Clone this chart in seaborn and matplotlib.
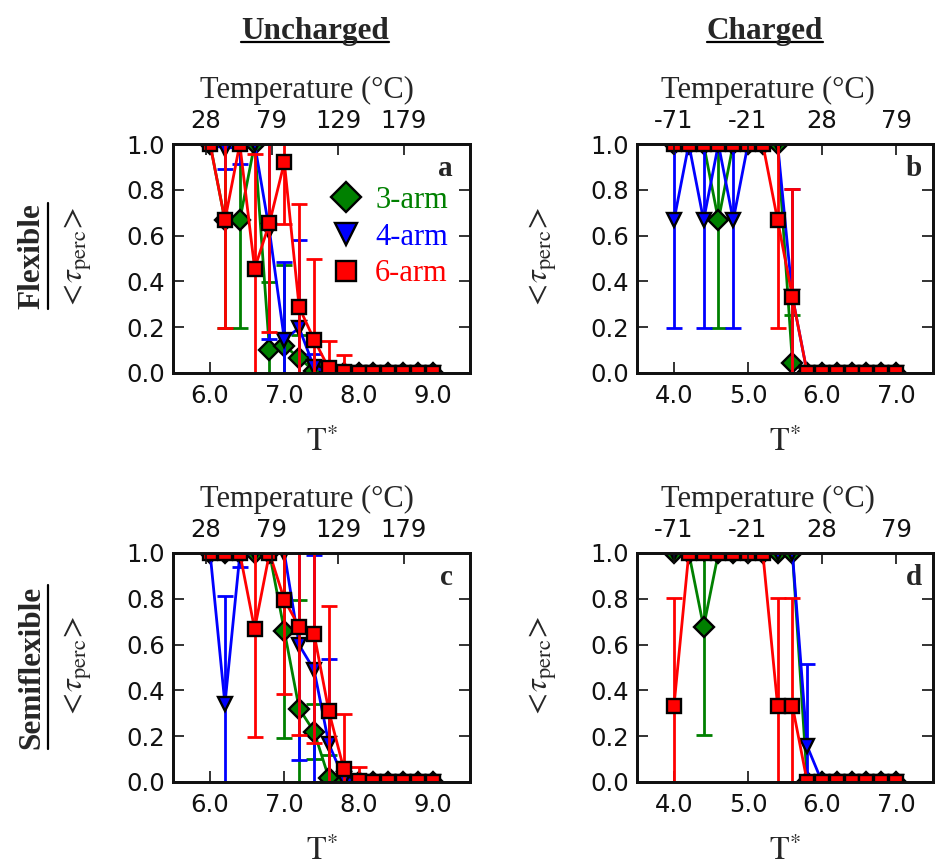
import matplotlib
matplotlib.use("Agg")
import matplotlib.pyplot as plt
import seaborn as sns
from matplotlib.lines import Line2D
from matplotlib.ticker import FormatStrFormatter

# ---------------- data ----------------
t_unch = [6.0, 6.2, 6.4, 6.6, 6.8, 7.0, 7.2, 7.4, 7.6, 7.8, 8.0, 8.2, 8.4, 8.6, 8.8, 9.0]
t_ch = [4.0, 4.2, 4.4, 4.6, 4.8, 5.0, 5.2, 5.4, 5.6, 5.8, 6.0, 6.2, 6.4, 6.6, 6.8, 7.0]

# panel a: uncharged, flexible
a_arm3 = [1.0, 0.667, 0.667, 1.0, 0.099, 0.12, 0.065, 0.01, 0, 0, 0, 0, 0, 0, 0, 0]
a_arm3_err = [0, 0.471, 0.471, 0, 0.30, 0.35, 0.10, 0.03, 0, 0, 0, 0, 0, 0, 0, 0]
a_arm4 = [1.0, 0.98, 0.99, 1.0, 0.62, 0.146, 0.197, 0.025, 0, 0, 0, 0, 0, 0, 0, 0]
a_arm4_err = [0, 0.09, 0.076, 0, 0.47, 0.34, 0.385, 0.06, 0, 0, 0, 0, 0, 0, 0, 0]
a_arm6 = [1.0, 0.667, 1.0, 0.456, 0.655, 0.92, 0.287, 0.146, 0.02, 0.005, 0, 0, 0, 0, 0, 0]
a_arm6_err = [0, 0.471, 0, 0.5, 0.477, 0.27, 0.45, 0.354, 0.12, 0.075, 0, 0, 0, 0, 0, 0]

# panel b: charged, flexible
b_arm3 = [1, 1, 1, 0.667, 1, 1, 1, 1, 0.044, 0, 0, 0, 0, 0, 0, 0]
b_arm3_err = [0, 0, 0, 0.471, 0, 0, 0, 0, 0.21, 0, 0, 0, 0, 0, 0, 0]
b_arm4 = [0.667, 1, 0.667, 1, 0.667, 1, 1, 1, 0.333, 0, 0, 0, 0, 0, 0, 0]
b_arm4_err = [0.471, 0, 0.471, 0, 0.471, 0, 0, 0, 0.471, 0, 0, 0, 0, 0, 0, 0]
b_arm6 = [1, 1, 1, 1, 1, 1, 1, 0.667, 0.333, 0, 0, 0, 0, 0, 0, 0]
b_arm6_err = [0, 0, 0, 0, 0, 0, 0, 0.471, 0.471, 0, 0, 0, 0, 0, 0, 0]

# panel c: uncharged, semiflexible
c_arm3 = [1, 1, 1, 1, 1, 0.66, 0.32, 0.22, 0.017, 0, 0, 0, 0, 0, 0, 0]
c_arm3_err = [0, 0, 0, 0, 0, 0.47, 0.475, 0.12, 0.10, 0, 0, 0, 0, 0, 0, 0]
c_arm4 = [1, 0.34, 0.99, 1, 1, 1, 0.598, 0.49, 0.166, 0.015, 0, 0, 0, 0, 0, 0]
c_arm4_err = [0, 0.47, 0.05, 0, 0, 0, 0.5, 0.5, 0.37, 0.05, 0, 0, 0, 0, 0, 0]
c_arm6 = [1, 1, 1, 0.667, 1, 0.796, 0.677, 0.648, 0.308, 0.058, 0.005, 0, 0, 0, 0, 0]
c_arm6_err = [0, 0, 0, 0.471, 0, 0.41, 0.471, 0.48, 0.46, 0.24, 0.06, 0, 0, 0, 0, 0]

# panel d: charged, semiflexible
d_arm3 = [1, 1, 0.677, 1, 1, 1, 1, 1, 1, 0, 0, 0, 0, 0, 0, 0]
d_arm3_err = [0, 0, 0.471, 0, 0, 0, 0, 0, 0, 0, 0, 0, 0, 0, 0, 0]
d_arm4 = [1, 1, 1, 1, 1, 1, 1, 1, 1, 0.156, 0, 0, 0, 0, 0, 0]
d_arm4_err = [0, 0, 0, 0, 0, 0, 0, 0, 0, 0.36, 0, 0, 0, 0, 0, 0]
d_arm6 = [0.333, 1, 1, 1, 1, 1, 1, 0.333, 0.333, 0, 0, 0, 0, 0, 0, 0]
d_arm6_err = [0.471, 0, 0, 0, 0, 0, 0, 0.471, 0.471, 0, 0, 0, 0, 0, 0, 0]

series_labels = ["3-arm", "4-arm", "6-arm"]
series_colors = ["#008000", "#0000ff", "#ff0000"]
series_markers = ["D", "v", "s"]

unch_top_ticks = [6, 7, 8, 9]
unch_top_labels = ["28", "79", "129", "179"]
ch_top_ticks = [4, 5, 6, 7]
ch_top_labels = ["-71", "-21", "28", "79"]

col_titles = ["Uncharged", "Charged"]
row_titles = ["Flexible", "Semiflexible"]
panel_letters = ["a", "b", "c", "d"]

# ---------------- style ----------------
sns.set_style("ticks")
plt.rcParams["font.family"] = ["DejaVu Sans"]
plt.rcParams["mathtext.fontset"] = "stix"
SERIF = ["Liberation Serif", "DejaVu Serif"]

fig = plt.figure(figsize=(9.38, 8.65), dpi=100)

positions = [
    [0.1844, 0.5688, 0.3166, 0.2647],
    [0.6791, 0.5688, 0.3156, 0.2647],
    [0.1844, 0.0960, 0.3166, 0.2647],
    [0.6791, 0.0960, 0.3156, 0.2647],
]

panels = [
    (t_unch, [(a_arm3, a_arm3_err), (a_arm4, a_arm4_err), (a_arm6, a_arm6_err)],
     (5.5, 9.5), (5.5, 10.0), unch_top_ticks, unch_top_labels),
    (t_ch, [(b_arm3, b_arm3_err), (b_arm4, b_arm4_err), (b_arm6, b_arm6_err)],
     (3.5, 7.5), (3.5, 7.5), ch_top_ticks, ch_top_labels),
    (t_unch, [(c_arm3, c_arm3_err), (c_arm4, c_arm4_err), (c_arm6, c_arm6_err)],
     (5.5, 9.5), (5.5, 10.0), unch_top_ticks, unch_top_labels),
    (t_ch, [(d_arm3, d_arm3_err), (d_arm4, d_arm4_err), (d_arm6, d_arm6_err)],
     (3.5, 7.5), (3.5, 7.5), ch_top_ticks, ch_top_labels),
]

letter_x = [0.943, 0.963, 0.943, 0.963]
tlabel_x = [0.451, 0.443, 0.451, 0.443]
LW = 2.0
TICKSIZE = 17.5

axes = []
for i, (x, sers, xlim, txlim, tticks, tlabels) in enumerate(panels):
    ax = fig.add_axes(positions[i])
    for (y, e), c, m in zip(sers, series_colors, series_markers):
        ax.errorbar(x, y, yerr=e, fmt="none", ecolor=c, elinewidth=LW,
                    capsize=5.5, capthick=LW, zorder=2)
        sns.lineplot(x=x, y=y, ax=ax, color=c, marker=m, markersize=10,
                     markeredgecolor="k", markeredgewidth=1.7, linewidth=LW,
                     legend=False, zorder=2)
    ax.set_xlim(*xlim)
    ax.set_ylim(0, 1)
    ax.set_xticks(tticks)
    ax.set_yticks([0, 0.2, 0.4, 0.6, 0.8, 1.0])
    ax.xaxis.set_major_formatter(FormatStrFormatter("%.1f"))
    ax.yaxis.set_major_formatter(FormatStrFormatter("%.1f"))
    ax.tick_params(axis="both", direction="in", length=8, width=1.2,
                   labelsize=TICKSIZE, top=False, right=True, colors="#111111",
                   labelcolor="#111111")
    ax.tick_params(axis="x", pad=8)
    ax.tick_params(axis="y", pad=6)
    for sp in ax.spines.values():
        sp.set_linewidth(2.0)
        sp.set_color("#111111")
    ax.set_xlabel(r"$\mathrm{T}^{*}$", fontsize=23)
    ax.xaxis.set_label_coords(0.5, -0.235)
    ax.set_ylabel(r"$<\!\tau_{\mathrm{perc}}\!>$", fontsize=23)
    ax.yaxis.set_label_coords(-0.265, 0.5)
    ax.text(letter_x[i], 0.895, panel_letters[i], transform=ax.transAxes,
            ha="right", va="center", fontsize=21, fontweight="bold",
            family=SERIF)

    ax2 = ax.twiny()
    ax2.set_xlim(*txlim)
    ax2.set_xticks(tticks)
    ax2.set_xticklabels(tlabels)
    ax2.tick_params(axis="x", direction="in", length=8, width=1.2,
                    labelsize=TICKSIZE, pad=8, colors="#111111",
                    labelcolor="#111111")
    for sp in ax2.spines.values():
        sp.set_linewidth(2.0)
        sp.set_color("#111111")
    ax2.set_xlabel("Temperature (°C)", fontsize=22, family=SERIF)
    ax2.xaxis.set_label_coords(tlabel_x[i], 1.20)
    axes.append(ax)

# legend in panel a
handles = [Line2D([], [], ls="none", marker=m, color=c, markeredgecolor="k",
                  markeredgewidth=1.7, markersize=ms)
           for m, c, ms in zip(series_markers, series_colors, [15, 16, 14])]
leg = axes[0].legend(handles, series_labels, loc="upper left",
                     bbox_to_anchor=(0.49, 0.87), frameon=False,
                     handlelength=1.0, handletextpad=0.45, labelspacing=0.25,
                     borderaxespad=0, prop={"family": SERIF, "size": 22})
for txt, c in zip(leg.get_texts(), series_colors):
    txt.set_color(c)

# column and row titles
col_x = [315 / 938, 765 / 938]
col_texts = [fig.text(cx, 1 - 39 / 865, t, ha="center", va="baseline",
                      fontsize=22.5, fontweight="bold", family=SERIF)
             for cx, t in zip(col_x, col_titles)]
row_y = [1 - 256 / 865, 1 - 667 / 865]
row_texts = [fig.text(32 / 938, ry, t, ha="center", va="center", rotation=90,
                      fontsize=22.5, fontweight="bold", family=SERIF)
             for ry, t in zip(row_y, row_titles)]

# underlines
fig.canvas.draw()
renderer = fig.canvas.get_renderer()
W, H = fig.bbox.width, fig.bbox.height
for t in col_texts:
    bb = t.get_window_extent(renderer)
    yb = (1 - 39 / 865) * H - 3.0
    fig.add_artist(Line2D([bb.x0 / W, bb.x1 / W], [yb / H, yb / H],
                          color="k", lw=1.6, transform=fig.transFigure))
for t in row_texts:
    bb = t.get_window_extent(renderer)
    xr = bb.x1 + 1.0
    fig.add_artist(Line2D([xr / W, xr / W], [bb.y0 / H, bb.y1 / H],
                          color="k", lw=1.6, transform=fig.transFigure))

fig.savefig("out.png", dpi=100)
